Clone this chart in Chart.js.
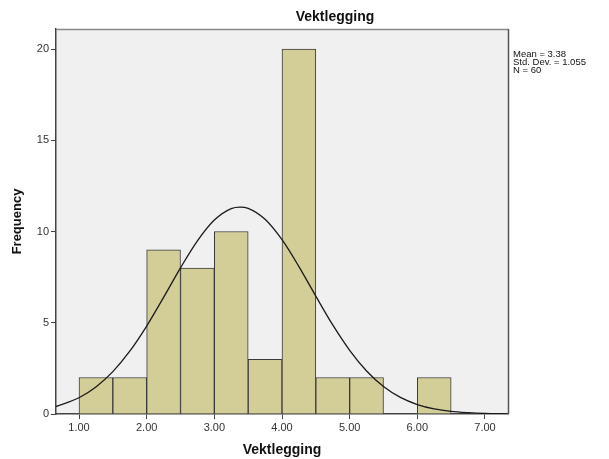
<!DOCTYPE html>
<html>
<head>
<meta charset="utf-8">
<script src="https://cdn.jsdelivr.net/npm/chart.js@4"></script>
<style>
  html, body { margin: 0; padding: 0; background: #fff; }
  #wrap { width: 609px; height: 459px; }
</style>
</head>
<body>
<div id="wrap"><canvas id="hist"></canvas></div>
<script>
// histogram bins (centres) and counts
const binCenters = [1.25, 1.75, 2.25, 2.75, 3.25, 3.75, 4.25, 4.75, 5.25, 5.75, 6.25];
const binCounts  = [2, 2, 9, 8, 10, 3, 20, 2, 2, 0, 2];

// normal curve
const curveX = [0.66, 1.0, 1.25, 1.5, 1.75, 2.0, 2.25, 2.5, 2.75, 3.0, 3.25, 3.38, 3.5, 3.75, 4.0, 4.25, 4.5, 4.75, 5.0, 5.25, 5.5, 5.75, 6.0, 6.25, 6.5, 6.75, 7.0, 7.34];
const curveY = [0.41, 0.89, 1.48, 2.32, 3.44, 4.82, 6.39, 8.01, 9.49, 10.63, 11.26, 11.34, 11.27, 10.67, 9.55, 8.08, 6.46, 4.88, 3.49, 2.36, 1.51, 0.91, 0.52, 0.28, 0.14, 0.07, 0.03, 0.01];

// tick labels
const xTicks = [1, 2, 3, 4, 5, 6, 7];
const yTicks = [0, 5, 10, 15, 20];

const statsText = ['Mean = 3.38', 'Std. Dev. = 1.055', 'N = 60'];
const titleText = 'Vektlegging';
const xTitle = 'Vektlegging';
const yTitle = 'Frequency';

Chart.defaults.font.family = '"Liberation Sans", Arial, sans-serif';

// background + frame + texts
const spssLook = {
    id: 'spssLook',
    beforeDraw(chart) {
        const { ctx, chartArea: a } = chart;
        ctx.save();
        ctx.fillStyle = '#f0f0f0';
        ctx.fillRect(a.left, a.top, a.right - a.left, a.bottom - a.top);
        ctx.restore();
    },
    afterDraw(chart) {
        const { ctx, chartArea: a } = chart;
        ctx.save();
        // top / right frame
        ctx.strokeStyle = '#8a8a8a';
        ctx.lineWidth = 1.5;
        ctx.beginPath();
        ctx.moveTo(a.left, a.top + 0.5);
        ctx.lineTo(a.right + 0.5, a.top + 0.5);
        ctx.stroke();
        ctx.strokeStyle = '#555';
        ctx.beginPath();
        ctx.moveTo(a.right + 0.5, a.top);
        ctx.lineTo(a.right + 0.5, a.bottom);
        ctx.stroke();

        ctx.fillStyle = '#111';
        ctx.textAlign = 'center';
        ctx.textBaseline = 'middle';
        ctx.font = 'bold 14px "Liberation Sans", Arial, sans-serif';
        ctx.fillText(titleText, 335, 17);
        ctx.fillText(xTitle, (a.left + a.right) / 2, 450);

        ctx.save();
        ctx.translate(17, (a.top + a.bottom) / 2);
        ctx.rotate(-Math.PI / 2);
        ctx.font = 'bold 13px "Liberation Sans", Arial, sans-serif';
        ctx.fillText(yTitle, 0, 0);
        ctx.restore();

        ctx.textAlign = 'left';
        ctx.font = '9.5px "Liberation Sans", Arial, sans-serif';
        statsText.forEach((t, i) => ctx.fillText(t, 513, 54 + i * 8));
        ctx.restore();
    }
};

const ctx = document.getElementById('hist').getContext('2d');

const chart = new Chart(ctx, {
    type: 'bar',
    data: {
        datasets: [
            {
                type: 'line',
                data: curveX.map((x, i) => ({ x: x, y: curveY[i] })),
                borderColor: '#1a1a1a',
                borderWidth: 1.3,
                pointRadius: 0,
                tension: 0.4,
                cubicInterpolationMode: 'monotone',
                order: 0
            },
            {
                type: 'bar',
                data: binCenters.map((x, i) => ({ x: x, y: binCounts[i] })),
                backgroundColor: '#d3ce98',
                borderColor: '#3a3a3a',
                borderWidth: 1,
                borderSkipped: 'start',
                barPercentage: 1,
                categoryPercentage: 1,
                order: 1
            }
        ]
    },
    options: {
        responsive: true,
        maintainAspectRatio: false,
        animation: false,
        layout: { padding: { left: 0, right: 101, top: 29, bottom: 0 } },
        plugins: {
            legend: { display: false },
            tooltip: { enabled: false }
        },
        scales: {
            x: {
                type: 'linear',
                offset: false,
                min: 0.66,
                max: 7.34,
                afterBuildTicks: s => { s.ticks = xTicks.map(v => ({ value: v })); },
                afterFit: s => { s.height = 45; },
                grid: { offset: false, drawOnChartArea: false, tickLength: 5, color: '#444' },
                border: { color: '#444', width: 1.5 },
                ticks: {
                    color: '#333',
                    font: { size: 11 },
                    padding: 2,
                    maxRotation: 0,
                    callback: v => v.toFixed(2)
                }
            },
            y: {
                min: 0,
                max: 21.1,
                afterBuildTicks: s => { s.ticks = yTicks.map(v => ({ value: v })); },
                afterFit: s => { s.width = 56; },
                grid: { drawOnChartArea: false, tickLength: 5, color: '#444' },
                border: { color: '#444', width: 1.5 },
                ticks: {
                    color: '#333',
                    font: { size: 11 },
                    padding: 2
                }
            }
        }
    },
    plugins: [spssLook]
});
</script>
</body>
</html>
